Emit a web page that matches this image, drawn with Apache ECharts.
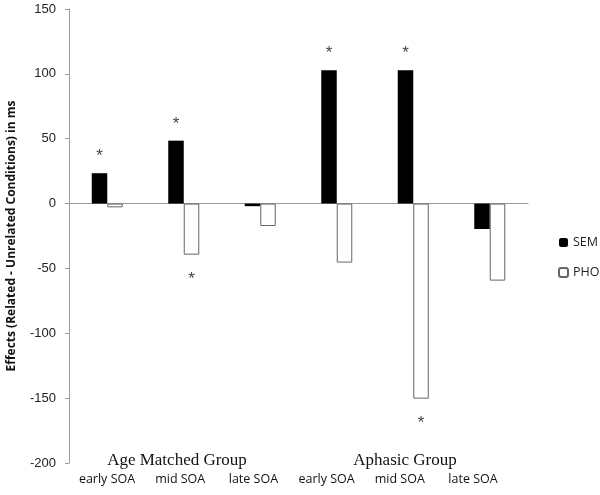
<!DOCTYPE html>
<html><head><meta charset="utf-8">
<script src="https://cdn.jsdelivr.net/npm/echarts@6/dist/echarts.min.js"></script>
<style>html,body{margin:0;padding:0;background:#fff}#c{width:600px;height:495px}</style>
</head><body><div id="c"></div>
<script>
var categories = ['early SOA','mid SOA','late SOA','early SOA','mid SOA','late SOA'];
var groups = ['Age Matched Group','Aphasic Group'];
var semValues = [23.4, 48.5, -2, 102.8, 102.8, -19.6];
var phoValues = [-2.9, -39.4, -17.3, -45.5, -150.4, -59.4];
var semSig = [true, true, false, true, true, false];
var phoSig = [false, true, false, false, true, false];
var yTicks = [150, 100, 50, 0, -50, -100, -150, -200];

var chart = echarts.init(document.getElementById('c'));
function mk(vals, sig) {
  return vals.map(function(v, i){
    if (!sig[i]) return v;
    return {value: v, label: {show: true, position: v >= 0 ? 'top' : 'bottom', distance: v >= 0 ? 8 : 16}};
  });
}
chart.setOption({
  animation: false,
  textStyle: {fontFamily: 'Open Sans'},
  grid: [
    {left: 69, right: 72, top: 9, bottom: 32, outerBoundsMode: 'none', containLabel: false},
    {left: 70.4, width: 439.2, top: 9, bottom: 32, outerBoundsMode: 'none', containLabel: false},
    {left: 63, width: 456, top: 9, bottom: 32, outerBoundsMode: 'none', containLabel: false}
  ],
  legend: {
    orient: 'vertical', left: 553, top: 231, itemWidth: 9, itemHeight: 9, itemGap: 17,
    textStyle: {fontFamily: 'Open Sans', fontSize: 12.5, color: '#222'},
    data: [{name: 'SEM'}, {name: 'PHO'}]
  },
  xAxis: [
    {gridIndex: 0, type: 'category', data: categories,
     axisLine: {onZero: true, lineStyle: {color: '#999', width: 1}}, axisTick: {show: false}, axisLabel: {show: false}},
    {gridIndex: 1, type: 'category', data: categories, position: 'bottom',
     axisLine: {show: false}, axisTick: {show: false},
     axisLabel: {interval: 0, hideOverlap: false, margin: 10, fontFamily: 'Open Sans', fontSize: 12.5, color: '#111'}},
    {gridIndex: 2, type: 'category', data: groups, position: 'bottom',
     axisLine: {show: false}, axisTick: {show: false},
     axisLabel: {interval: 0, margin: -11, fontFamily: 'Liberation Serif', fontSize: 17, color: '#111'}}
  ],
  yAxis: [
    {gridIndex: 0, type: 'value', min: -200, max: 150, interval: 50,
     name: 'Effects (Related - Unrelated Conditions) in ms', nameLocation: 'middle', nameGap: 51,
     nameTextStyle: {fontFamily: 'Open Sans', fontWeight: 'bold', fontSize: 12, color: '#111'},
     axisLine: {show: true, lineStyle: {color: '#999'}},
     axisTick: {show: true, length: 4, lineStyle: {color: '#999'}},
     splitLine: {show: false},
     axisLabel: {margin: 13, fontFamily: 'Liberation Sans', fontSize: 13, color: '#222'}},
    {gridIndex: 1, type: 'value', show: false},
    {gridIndex: 2, type: 'value', show: false}
  ],
  series: [
    {name: 'SEM', type: 'bar', xAxisIndex: 0, yAxisIndex: 0, data: mk(semValues, semSig),
     barWidth: 15.5, barGap: '0%',
     itemStyle: {color: '#000', borderColor: '#000', borderWidth: 0},
     label: {show: false, formatter: '*', fontFamily: 'Liberation Sans', fontSize: 17, color: '#444'}},
    {name: 'PHO', type: 'bar', xAxisIndex: 0, yAxisIndex: 0, data: mk(phoValues, phoSig),
     barWidth: 15.5, barGap: '0%',
     itemStyle: {color: '#fff', borderColor: '#666', borderWidth: 1},
     label: {show: false, formatter: '*', fontFamily: 'Liberation Sans', fontSize: 17, color: '#444'}}
  ]
});
</script></body></html>
